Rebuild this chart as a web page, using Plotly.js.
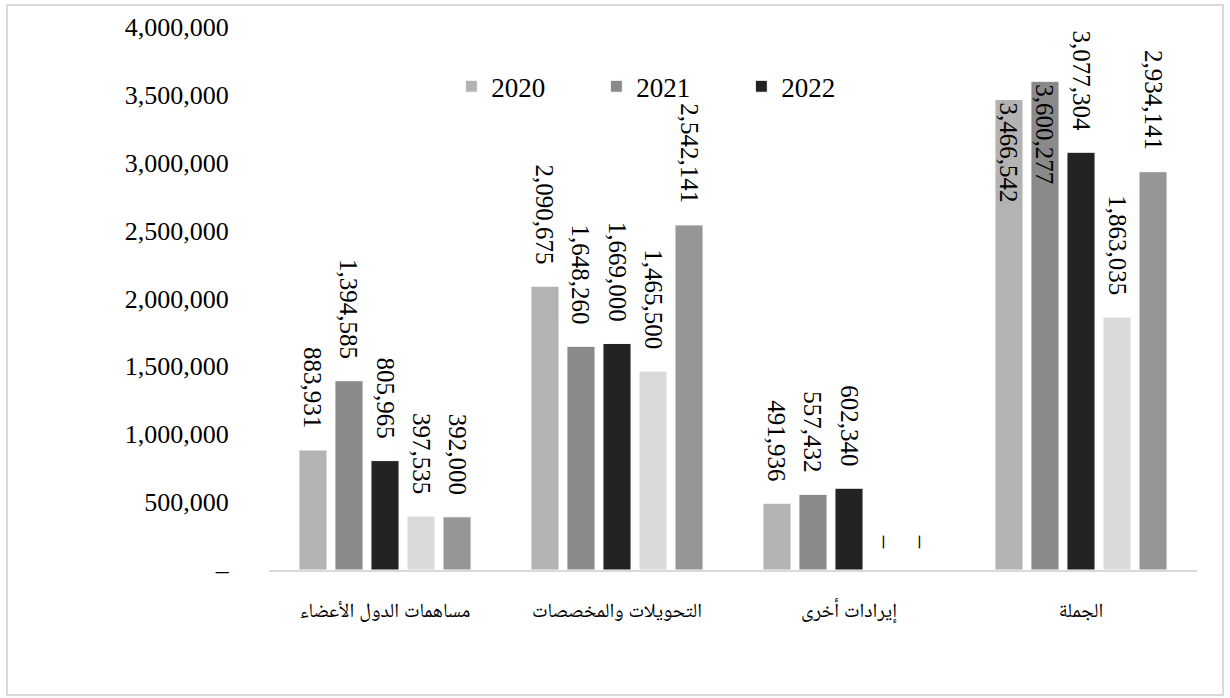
<!DOCTYPE html>
<html><head><meta charset="utf-8">
<script src="https://cdn.plot.ly/plotly-3.0.1.min.js"></script>
<style>
html,body{margin:0;padding:0;background:#fff;}
#wrap{position:relative;width:1230px;height:698px;}
#chart{position:absolute;left:0;top:0;width:1230px;height:698px;}
#frame{position:absolute;left:6px;top:4px;width:1214px;height:688px;border:2px solid #d9d9d9;pointer-events:none;}
</style></head><body>
<div id="wrap"><div id="chart"></div><div id="frame"></div></div>
<script>
const categories = ['مساهمات الدول الأعضاء', 'التحويلات والمخصصات', 'إيرادات أخرى', 'الجملة'];
const seriesNames = ['2020', '2021', '2022', '', ''];
const values2020 = [883931, 2090675, 491936, 3466542];
const values2021 = [1394585, 1648260, 557432, 3600277];
const values2022 = [805965, 1669000, 602340, 3077304];
const valuesS4 = [397535, 1465500, 0, 1863035];
const valuesS5 = [392000, 2542141, 0, 2934141];
const seriesColors = ['#b3b3b3', '#8a8a8a', '#232323', '#dadada', '#969696'];
const yTickValues = [0, 500000, 1000000, 1500000, 2000000, 2500000, 3000000, 3500000, 4000000];

const allSeries = [values2020, values2021, values2022, valuesS4, valuesS5];
const fmt = v => v === 0 ? '\u2013' : v.toLocaleString('en-US');
const PAD = '\u00a0\u00a0\u00a0';
const serif = 'Liberation Serif, Times New Roman, serif';
const arabicFont = 'Liberation Serif, Noto Naskh Arabic, Noto Sans Arabic, DejaVu Serif, serif';

const traces = allSeries.map((vals, i) => {
  const tall = vals.map(v => v > 3300000);
  return {
    type: 'bar',
    name: seriesNames[i],
    showlegend: i < 3,
    x: categories,
    y: vals,
    text: vals.map((v, j) => tall[j] ? fmt(v) : fmt(v) + PAD),
    textposition: vals.map((v, j) => tall[j] ? 'inside' : 'outside'),
    insidetextanchor: 'end',
    textangle: 90,
    constraintext: 'none',
    cliponaxis: false,
    textfont: {family: serif, size: 25, color: '#000'},
    insidetextfont: {family: serif, size: 25, color: '#000'},
    outsidetextfont: {family: serif, size: 25, color: '#000'},
    marker: {color: seriesColors[i], line: {color: '#ffffff', width: 1}},
    hoverinfo: 'x+y+name'
  };
});

const layout = {
  width: 1230, height: 698,
  margin: {l: 269, r: 33, t: 27, b: 128},
  paper_bgcolor: '#ffffff', plot_bgcolor: '#ffffff',
  barmode: 'group',
  bargap: 0.224,
  bargroupgap: 0.22,
  font: {family: serif, size: 26, color: '#000'},
  showlegend: true,
  legend: {
    orientation: 'h', x: 0.1965, xanchor: 'left', y: 0.89, yanchor: 'middle',
    font: {family: serif, size: 27, color: '#000'},
    entrywidth: 100, entrywidthmode: 'pixels',
    bgcolor: 'rgba(0,0,0,0)', traceorder: 'normal'
  },
  xaxis: {
    type: 'category',
    showgrid: false, zeroline: false,
    showline: true, linecolor: '#d9d9d9', linewidth: 2,
    ticks: 'outside', ticklen: 21, tickcolor: 'rgba(0,0,0,0)',
    tickfont: {family: arabicFont, size: 20, color: '#000'},
    fixedrange: true
  },
  yaxis: {
    range: [0, 4000000],
    showgrid: false, zeroline: false, showline: false,
    tickmode: 'array',
    tickvals: yTickValues,
    ticktext: yTickValues.map(fmt),
    ticks: 'outside', ticklen: 34, tickcolor: 'rgba(0,0,0,0)',
    tickfont: {family: serif, size: 26, color: '#000'},
    fixedrange: true
  }
};

Plotly.newPlot('chart', traces, layout, {displayModeBar: false, staticPlot: true});
</script>
</body></html>
